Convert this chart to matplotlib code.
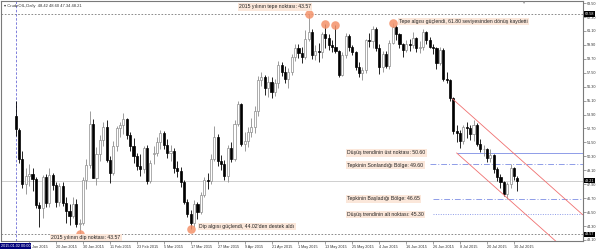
import pandas as pd
import matplotlib.pyplot as plt

# daily bars, 2 Jan 2015 - 31 Jul 2015 (no bar on 3 Apr)
dates = pd.bdate_range("2015-01-02", "2015-07-31").drop(pd.Timestamp("2015-04-03"))

opens = [53.76, 52.61, 50.04, 47.93, 48.65, 48.79, 48.36, 46.07, 45.89, 48.48, 46.25, 48.69, 47.80, 46.39, 47.78, 46.31, 45.59, 45.15, 46.23, 44.45, 44.53,
         48.24, 49.57, 53.05, 48.45, 50.48, 51.69, 52.86, 50.02, 48.84, 51.21, 52.78, 53.00, 53.53, 52.14, 51.16, 50.34, 49.45, 49.25, 50.99, 48.17,
         50.5, 50.6, 51.5, 52.3, 51.3, 50.6, 50.8, 49.3, 49.0, 48.1, 46.4, 45.3, 44.6, 46.2, 45.5, 47.0, 48.3, 48.2, 50.1, 52.0, 49.9, 49.6,
         48.6, 51.0, 50.1, 53.1, 54.8, 51.4, 51.6, 52.4, 52.8, 54.2, 56.9, 57.1, 56.2, 56.7, 55.8, 56.6, 58.2, 57.6, 57.0, 57.6, 58.9,
         59.6, 59.2, 58.9, 60.4, 61.0, 59.0, 59.4, 59.3, 60.8, 60.5, 59.9, 59.7, 59.4, 57.3, 59.0, 60.7, 59.7, 59.3, 58.0, 57.5, 57.7,
         60.3, 60.2, 61.3, 59.6, 58.0, 59.1, 58.1, 60.1, 61.4, 60.8, 60.0, 59.5, 60.0, 59.9, 60.5, 59.6, 59.7, 61.0, 60.3, 59.7, 59.6, 58.3,
         59.5, 57.0, 56.9, 55.3, 52.5, 52.3, 51.6, 52.8, 52.7, 52.2, 53.0, 51.4, 50.9, 50.9, 50.2, 50.4, 49.2, 48.5, 48.1, 47.1, 47.9, 49.3, 48.42]
highs = [55.11, 52.73, 50.72, 49.31, 49.65, 49.28, 48.56, 46.39, 48.70, 48.78, 49.26, 48.90, 48.10, 48.00, 48.10, 46.80, 46.20, 46.80, 46.60, 44.90, 48.50,
         50.10, 54.24, 53.50, 51.10, 52.10, 53.30, 53.40, 50.30, 51.60, 52.90, 53.30, 54.00, 53.60, 52.40, 51.90, 50.60, 50.50, 51.20, 51.30, 50.00,
         51.2, 52.0, 52.6, 52.5, 51.8, 51.3, 51.0, 49.9, 49.4, 48.3, 46.6, 45.7, 46.5, 46.4, 47.2, 48.5, 48.9, 50.5, 52.9, 52.2, 50.4, 50.0,
         51.3, 51.5, 53.4, 55.1, 54.9, 52.4, 52.8, 53.6, 54.6, 57.2, 57.6, 57.3, 57.2, 57.1, 57.0, 58.5, 58.4, 58.1, 57.9, 59.1, 60.0,
         60.0, 59.7, 61.2, 62.58, 61.3, 59.9, 60.1, 61.0, 61.7, 60.8, 60.3, 61.6, 59.5, 59.3, 60.9, 60.8, 59.9, 59.4, 58.4, 58.0, 60.4,
         60.9, 61.5, 61.4, 60.0, 59.4, 59.4, 60.3, 61.8, 61.6, 60.9, 60.1, 60.3, 60.4, 61.0, 60.6, 60.2, 61.3, 61.1, 60.6, 60.0, 59.7, 59.7,
         59.6, 57.6, 57.0, 55.4, 53.0, 52.6, 53.0, 53.3, 53.0, 53.4, 53.2, 51.8, 51.3, 51.0, 50.9, 50.5, 49.4, 48.8, 48.2, 48.1, 49.6, 49.4, 48.60]
lows = [52.03, 49.77, 47.55, 47.05, 47.73, 47.33, 45.85, 44.20, 45.02, 45.90, 45.90, 47.40, 45.90, 46.00, 46.00, 44.60, 44.40, 45.00, 44.20, 43.57, 44.40,
        47.50, 49.30, 48.40, 47.80, 49.90, 51.20, 49.80, 48.00, 48.70, 50.80, 52.00, 52.20, 51.80, 50.80, 49.70, 49.10, 48.60, 48.90, 47.90, 48.00,
        49.6, 50.3, 50.9, 50.9, 50.2, 49.9, 48.9, 48.5, 47.7, 46.2, 45.1, 44.02, 44.2, 44.9, 45.3, 46.8, 47.5, 47.9, 49.9, 49.5, 49.1, 48.3,
        48.1, 49.8, 49.9, 52.9, 51.2, 50.8, 51.1, 52.0, 52.3, 53.8, 56.4, 55.6, 55.4, 55.3, 55.5, 56.2, 57.2, 56.6, 56.2, 57.3, 58.5,
        58.8, 58.3, 58.7, 60.2, 58.7, 58.6, 58.4, 58.8, 59.6, 59.5, 59.3, 59.2, 57.1, 57.2, 58.8, 59.4, 59.0, 57.7, 57.1, 56.9, 57.5,
        59.7, 59.6, 59.4, 57.4, 57.6, 57.9, 57.8, 60.0, 60.3, 59.6, 58.9, 59.3, 59.4, 59.6, 59.3, 59.2, 59.5, 60.0, 59.6, 59.1, 57.8, 58.2,
        56.8, 56.6, 55.1, 52.2, 51.5, 51.0, 51.4, 51.9, 51.7, 51.6, 51.2, 50.7, 50.3, 49.8, 49.8, 48.9, 48.2, 47.6, 46.9, 46.65, 47.6, 48.3, 47.34]
closes = [52.69, 50.04, 47.93, 48.65, 48.79, 48.36, 46.07, 45.89, 48.48, 46.25, 48.69, 47.80, 46.39, 47.78, 46.31, 45.59, 45.15, 46.23, 44.45, 44.53, 48.24,
          49.57, 53.05, 48.45, 50.48, 51.69, 52.86, 50.02, 48.84, 51.21, 52.78, 53.00, 53.53, 52.14, 51.16, 50.34, 49.45, 49.25, 50.99, 48.17, 49.76,
          50.6, 51.5, 52.3, 51.3, 50.6, 50.8, 49.3, 49.0, 48.1, 46.4, 45.3, 44.6, 46.2, 45.5, 47.0, 48.3, 48.2, 50.1, 52.0, 49.9, 49.6, 48.6,
          51.0, 50.1, 53.1, 54.8, 51.4, 51.6, 52.4, 52.8, 54.2, 56.9, 57.1, 56.2, 56.7, 55.8, 56.6, 58.2, 57.6, 57.0, 57.6, 58.9, 59.6,
          59.2, 58.9, 60.4, 61.0, 59.0, 59.4, 59.3, 60.8, 60.5, 59.9, 59.7, 59.4, 57.3, 59.0, 60.7, 59.7, 59.3, 58.0, 57.5, 57.7, 60.3,
          60.2, 61.3, 59.6, 58.0, 59.1, 58.1, 60.1, 61.4, 60.8, 60.0, 59.5, 60.0, 59.9, 60.5, 59.6, 59.7, 61.0, 60.3, 59.7, 59.6, 58.3, 59.5,
          57.0, 56.9, 55.3, 52.5, 52.3, 51.6, 52.8, 52.7, 52.2, 53.0, 51.4, 50.9, 50.9, 50.2, 50.4, 49.2, 48.5, 48.1, 47.1, 47.9, 49.3, 48.6, 48.21]

# levels drawn on the chart
top_level = 62.58
bottom_level = 43.57
bid = 48.21
trend_top = 50.60
rebound_end = 49.60
rebound_start = 46.65
trend_bottom = 45.30

# channel lines: (bar index, price) endpoints
chan_upper_x = [129.8, 168.4]
chan_upper_y = [55.24, 45.28]
chan_lower_x = [131.0, 168.4]
chan_lower_y = [50.59, 40.94]

# marked extremes (bar index, price)
marks_x = [19, 52, 87, 92, 95, 112]
marks_y = [43.57, 44.02, 62.58, 61.7, 61.6, 61.8]

price_ticks = [43.10 + 1.2 * k for k in range(18)]

fig = plt.figure(figsize=(6, 2.5), dpi=100)
ax = fig.add_axes([0.002, 0.036, 0.969, 0.96])
font = ["Liberation Sans", "DejaVu Sans"]

xs = list(range(len(dates)))
for i in xs:
    o, h, l, c = opens[i], highs[i], lows[i], closes[i]
    up = c >= o
    col = "#8c8c8c" if up else "black"
    ax.vlines(i, l, h, color=col, lw=0.6, zorder=3)
    ax.bar(i, max(abs(c - o), 0.04), bottom=min(o, c), width=0.62,
           facecolor="white" if up else "black", edgecolor=col, lw=0.5, zorder=4)

x0, x1 = -4.3, 168.4
ax.set_xlim(x0, x1)
ax.set_ylim(43.01, 63.68)

# horizontal levels
ax.axhline(top_level, color="#777777", lw=0.6, ls=(0, (2, 2)), zorder=1)
ax.axhline(bottom_level, color="#777777", lw=0.6, ls=(0, (2, 2)), zorder=1)
ax.axhline(bid, color="#c8c8c8", lw=0.6, zorder=1)
ax.hlines(trend_top, 131, x1, color="#8e9ce8", lw=0.7, zorder=2)
ax.hlines(rebound_end, 123, x1, color="#8e9ce8", lw=0.7, ls=(0, (6, 2, 1, 2)), zorder=2)
ax.hlines(rebound_start, 124, x1, color="#8e9ce8", lw=0.7, ls=(0, (6, 2, 1, 2)), zorder=2)
ax.hlines(trend_bottom, 124, x1, color="#8e9ce8", lw=0.7, ls=(0, (1, 1.5)), zorder=2)
ax.axvline(0, color="#6b6bd6", lw=0.6, ls=(0, (3, 2)), zorder=1)

ax.plot(chan_upper_x, chan_upper_y, color="#f07070", lw=0.6, zorder=5)
ax.plot(chan_lower_x, chan_lower_y, color="#f07070", lw=0.6, zorder=5)

ax.scatter(marks_x, marks_y, s=38, color="#f4926a", alpha=0.85, lw=0, zorder=6)

box = dict(boxstyle="square,pad=0.25", facecolor="#fbe7da", edgecolor="none")
notes = [
    (77, 63.17, "2015 yılının tepe noktası: 43.57", "center"),
    (114, 61.90, "Tepe algısı güçlendi, 61.80 seviyesinden dönüş kaydetti", "left"),
    (98.5, trend_top, "Düşüş trendinin üst noktası: 50.60", "left"),
    (98.5, 49.60 - 0.05, "Tepkinin Sonlandığı Bölge: 49.60", "left"),
    (98.5, rebound_start, "Tepkinin Başladığı Bölge: 46.65", "left"),
    (98.5, trend_bottom, "Düşüş trendinin alt noktası: 45.30", "left"),
    (10.5, 43.30, "2015 yılının dip noktası: 43.57", "left"),
    (54.5, 44.25, "Dip algısı güçlendi, 44.02'den destek aldı", "left"),
]
for nx, ny, txt, ha in notes:
    ax.text(nx, ny, txt, fontsize=3.7, family=font, ha=ha, va="center",
            color="#222222", bbox=box, zorder=7)

ax.text(-3.5, 63.25, "▾ CrudeOIL,Daily  48.42 48.60 47.34 48.21", fontsize=3.0,
        family=font, color="#333333", va="center", zorder=7)
ax.text(150.7, 63.72, "▼", fontsize=3, family=font, color="#999999", ha="center", va="top", zorder=7)

# axes styling like the terminal
for s in ax.spines.values():
    s.set_color("#7a7a7a")
    s.set_linewidth(0.8)
ax.yaxis.tick_right()
ax.set_yticks(price_ticks)
ax.set_yticklabels([f"{p:.2f}" for p in price_ticks])
tick_idx = list(range(4, len(dates), 8))
ax.set_xticks(tick_idx)
ax.set_xticklabels([f"{dates[i].day} {dates[i]:%b %Y}" for i in tick_idx], ha="left")
ax.tick_params(axis="both", labelsize=2.7, length=2, width=0.5, color="#7a7a7a", pad=1,
               labelcolor="#333333")
for lab in ax.get_xticklabels() + ax.get_yticklabels():
    lab.set_family(font)

# highlighted scale labels
dark = dict(boxstyle="square,pad=0.2", facecolor="black", edgecolor="none")
for p in [top_level, bid, bottom_level]:
    ax.text(1.004, p, f"{p:.2f}", transform=ax.get_yaxis_transform(), fontsize=2.7,
            family=font, color="white", va="center", ha="left", bbox=dark, clip_on=False)
ax.text(0.0, -0.012, "2015.01.02 00:00", transform=ax.transAxes, fontsize=2.7, family=font,
        color="white", va="top", ha="left",
        bbox=dict(boxstyle="square,pad=0.2", facecolor="#00007a", edgecolor="none"), clip_on=False)

fig.savefig("out.png", dpi=100)
